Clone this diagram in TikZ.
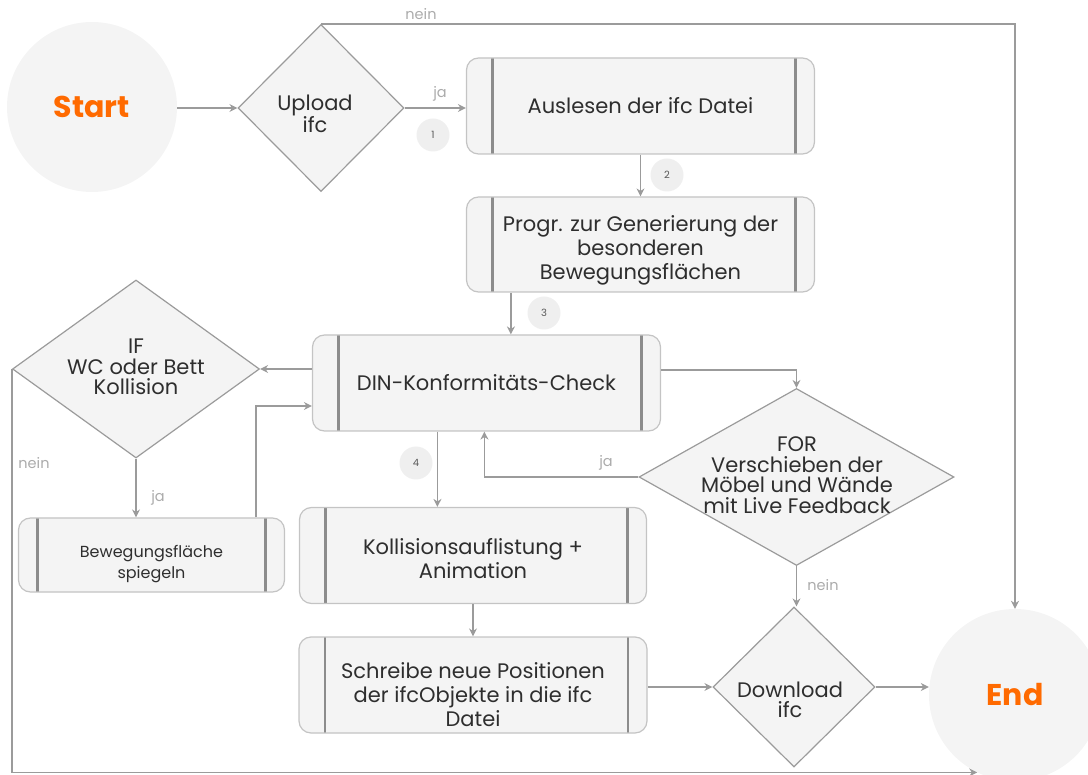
\documentclass[tikz,border=0pt]{standalone}
\usepackage{fontspec}
\setmainfont{Poppins}
\usetikzlibrary{shapes.geometric,arrows.meta,calc}
\definecolor{boxfill}{HTML}{F4F4F4}
\definecolor{boxline}{HTML}{C4C4C4}
\definecolor{barcol}{HTML}{8C8C8C}
\definecolor{conn}{HTML}{9B9B9B}
\definecolor{labcol}{HTML}{ABABAB}
\definecolor{txt}{HTML}{2E2E2E}
\definecolor{orng}{HTML}{FF6A00}
\definecolor{numfill}{HTML}{EFEFEF}
\begin{document}
\begin{tikzpicture}[x=1pt,y=-1pt,
  every node/.style={text=txt},
  ptext/.style={align=center,font=\fontsize{21}{24}\selectfont,inner sep=0pt,text=txt},
  procbox/.style={draw=boxline,line width=1.2pt,fill=boxfill,rounded corners=12pt,
    inner sep=0pt,align=center,font=\fontsize{21}{24}\selectfont,
    path picture={
      \draw[barcol,line width=2.6pt]
        ($(path picture bounding box.north west)+(#1,0)$) -- ($(path picture bounding box.south west)+(#1,0)$);
      \draw[barcol,line width=2.6pt]
        ($(path picture bounding box.north east)+(-19,0)$) -- ($(path picture bounding box.south east)+(-19,0)$);
    }},
  procbox/.default=26,
  decision/.style={diamond,draw=conn,line width=1.2pt,fill=boxfill,inner sep=0pt},
  dtext/.style={align=center,font=\fontsize{21}{20.5}\selectfont,inner sep=0pt},
  term/.style={circle,fill=boxfill,inner sep=0pt,minimum size=#1,text=orng,font=\fontsize{30}{32}\selectfont\bfseries},
  arr/.style={draw=conn,line width=1.8pt,-{Stealth[length=8pt,width=8pt]}},
  lab/.style={text=labcol,font=\fontsize{14.5}{16}\selectfont,inner sep=0pt},
  num/.style={circle,fill=numfill,minimum size=33pt,inner sep=0pt,text=txt!80,font=\fontsize{10}{11}\selectfont}
]
\useasboundingbox (0,0) rectangle (1088,775);

% terminals
\node[term=170pt] (start) at (92,107) {Start};
\node[term=172pt] (end) at (1015,695) {End};

% decisions
\node[decision,minimum width=166pt,minimum height=167pt] (upload) at (321,108) {};
\node[dtext] (uploadT) at (315,114) {Upload\\ifc};
\node[decision,minimum width=247pt,minimum height=178pt] (ifd) at (136,369) {};
\node[dtext] (ifdT) at (136,367) {IF\\WC oder Bett\\Kollision};
\node[decision,minimum width=315pt,minimum height=177pt] (for) at (796.5,477) {};
\node[dtext] (forT) at (797,475) {FOR\\Verschieben der\\Möbel und Wände\\mit Live Feedback};
\node[decision,minimum width=162pt,minimum height=160pt] (down) at (794,687) {};
\node[dtext] (downT) at (790,700) {Download\\ifc};

% processes
\node[procbox,minimum width=348pt,minimum height=96pt] (box1) at (640.5,106) {Auslesen der ifc Datei};
\node[procbox,minimum width=348pt,minimum height=95pt,
  label={[ptext,yshift=-6pt]center:Progr. zur Generierung der\\besonderen\\Bewegungsflächen}] (box2) at (640.5,244.5) {};
\node[procbox,minimum width=348pt,minimum height=96pt] (din) at (486.5,383) {DIN-Konformitäts-Check};
\node[procbox=19,minimum width=266pt,minimum height=74pt,
  label={[ptext,font=\fontsize{16}{21}\selectfont,yshift=-9pt]center:Bewegungsfläche\\spiegeln}] (spieg) at (151.5,555) {};
\node[procbox,minimum width=347pt,minimum height=96pt,
  label={[ptext,yshift=-3pt]center:Kollisionsauflistung +\\Animation}] (box4) at (473,555.5) {};
\node[procbox,minimum width=348pt,minimum height=96pt,
  label={[ptext,yshift=-10pt]center:Schreibe neue Positionen\\der ifcObjekte in die ifc\\Datei}] (box5) at (473,685) {};

% connectors
\draw[arr] (start.east |- upload.west) -- (upload.west);
\draw[arr] (upload.north) -| (end.north);
\draw[arr] (upload.east) -- (upload.east -| box1.west);
\draw[arr] (box1.south) -- (box2.north);
\coordinate (b2s) at ($(box2.south west)+(45,0)$);
\draw[arr] (b2s) -- (b2s |- din.north);
\draw[arr] (din.west |- ifd.east) -- (ifd.east);
\draw[arr] (ifd.south) -- (ifd.south |- spieg.north);
\coordinate (spn) at ($(spieg.north west)+(238,0)$);
\coordinate (dinw) at ($(din.west)+(0,23)$);
\draw[arr] (spn) |- (dinw);
\draw[arr] (ifd.west) |- (end.244);
\coordinate (dine) at ($(din.east)+(0,-13)$);
\draw[arr] (dine) -| (for.north);
\coordinate (dinsj) at ($(din.south west)+(172.5,0)$);
\draw[arr] (for.west) -| (dinsj);
\coordinate (dins4) at ($(din.south west)+(125.5,0)$);
\draw[arr] (dins4) -- (dins4 |- box4.north);
\draw[arr] (box4.south) -- (box5.north);
\draw[arr] (box5.east |- down.west) -- (down.west);
\draw[arr] (for.south) -- (for.south |- down.north);
\draw[arr] (down.east) -- (down.east -| end.west);

% labels
\node[lab] (l1) at (421,14) {nein};
\node[lab] (l2) at (440,94) {ja};
\node[lab] (l3) at (34,463) {nein};
\node[lab] (l4) at (158,498) {ja};
\node[lab] (l5) at (606,463) {ja};
\node[lab] (l6) at (823,585) {nein};

% numbers
\node[num] (n1) at (433,135) {1};
\node[num] (n2) at (667,175) {2};
\node[num] (n3) at (544,313) {3};
\node[num] (n4) at (416,463) {4};
\end{tikzpicture}
\end{document}
